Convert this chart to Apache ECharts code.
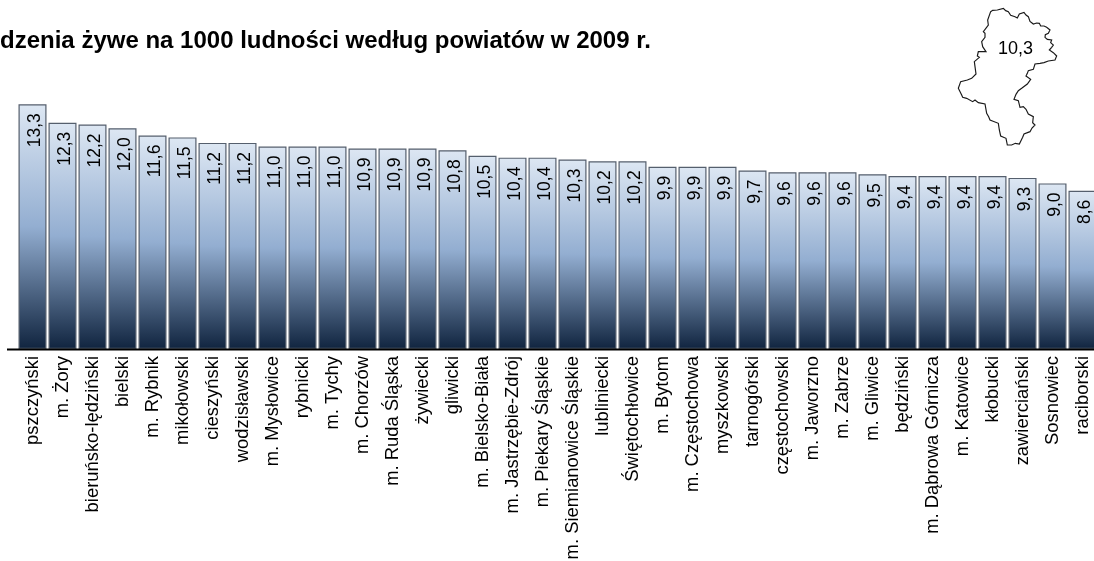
<!DOCTYPE html>
<html><head><meta charset="utf-8">
<script src="https://cdn.jsdelivr.net/npm/echarts@6/dist/echarts.min.js"></script>
<style>html,body{margin:0;padding:0;background:#fff}#c{width:1094px;height:561px}</style>
</head><body><div id="c"></div>
<script>
const categories = ["pszczyński","m. Żory","bieruńsko-lędziński","bielski","m. Rybnik","mikołowski","cieszyński","wodzisławski","m. Mysłowice","rybnicki","m. Tychy","m. Chorzów","m. Ruda Śląska","żywiecki","gliwicki","m. Bielsko-Biała","m. Jastrzębie-Zdrój","m. Piekary Śląskie","m. Siemianowice Śląskie","lubliniecki","Świętochłowice","m. Bytom","m. Częstochowa","myszkowski","tarnogórski","częstochowski","m. Jaworzno","m. Zabrze","m. Gliwice","będziński","m. Dąbrowa Górnicza","m. Katowice","kłobucki","zawierciański","Sosnowiec","raciborski"];
const values = [13.3,12.3,12.2,12.0,11.6,11.5,11.2,11.2,11.0,11.0,11.0,10.9,10.9,10.9,10.8,10.5,10.4,10.4,10.3,10.2,10.2,9.9,9.9,9.9,9.7,9.6,9.6,9.6,9.5,9.4,9.4,9.4,9.4,9.3,9.0,8.6];
const titleText = "Urodzenia żywe na 1000 ludności według powiatów w 2009 r.";
const regionValue = "10,3";
const outline = [[152,35],[158,31],[172,30],[190,25],[197,32],[205,35],[212,46],[225,50],[232,54],[238,42],[252,37],[258,45],[265,50],[270,64],[280,72],[290,69],[298,70],[302,78],[312,78],[320,82],[330,90],[325,100],[316,104],[315,112],[322,118],[335,120],[332,128],[340,135],[335,142],[328,150],[340,158],[350,168],[345,180],[325,183],[312,188],[300,190],[285,192],[280,208],[265,212],[262,220],[258,228],[272,238],[262,252],[245,265],[235,272],[228,283],[222,298],[235,302],[240,322],[250,320],[258,328],[265,342],[280,350],[278,368],[285,375],[276,384],[270,395],[252,402],[248,412],[238,432],[226,430],[215,435],[202,435],[198,415],[182,408],[178,390],[175,370],[150,360],[146,350],[140,340],[135,312],[115,308],[105,300],[98,305],[80,295],[68,292],[65,285],[55,265],[62,245],[82,240],[95,235],[108,222],[103,185],[118,172],[112,168],[115,155],[138,155],[128,140],[125,125],[135,112],[135,100],[130,95],[145,75],[143,60]];
const font = '"Liberation Sans", Arial, sans-serif';
const chart = echarts.init(document.getElementById('c'), null, {renderer:'canvas'});
chart.setOption({
  animation:false,
  backgroundColor:'#fff',
  title:{text:titleText,left:-41.3,top:29,padding:0,textStyle:{fontFamily:font,fontSize:24,fontWeight:'bold',color:'#000'}},
  grid:{left:17.5,width:1080,top:73,height:276,outerBoundsMode:'none'},
  xAxis:{type:'category',data:categories,axisLine:{show:false},axisTick:{show:false},
    axisLabel:{interval:0,rotate:90,margin:7,fontFamily:font,fontSize:18.4,color:'#000'}},
  yAxis:{type:'value',min:0,max:15,interval:5,show:false,splitLine:{show:false}},
  series:[{type:'bar',data:values,barWidth:28,
    itemStyle:{borderColor:'#555f6d',borderWidth:1.2,
      color:{type:'linear',x:0,y:0,x2:0,y2:1,colorStops:[
        {offset:0,color:'#dde7f3'},{offset:0.5,color:'#93aed1'},{offset:1,color:'#10243f'}]}},
    label:{show:true,position:'insideTop',rotate:90,distance:9,offset:[0,2.5],align:'right',verticalAlign:'middle',fontFamily:font,fontSize:17.5,color:'#000',
      formatter:p=>p.value.toFixed(1).replace('.',',')}
  }],
  graphic:[
    {type:'line',shape:{x1:7,y1:349.5,x2:1094,y2:349.5},style:{stroke:'#000',lineWidth:2},z:10},
    {type:'polygon',x:940,y:0,scaleX:1/3,scaleY:1/3,shape:{points:outline},style:{fill:'none',stroke:'#1a1a1a',lineWidth:3.5},z:10},
    {type:'text',x:998,y:40,style:{text:regionValue,font:'18px '+font,fill:'#000'},z:10}
  ]
});
</script></body></html>
